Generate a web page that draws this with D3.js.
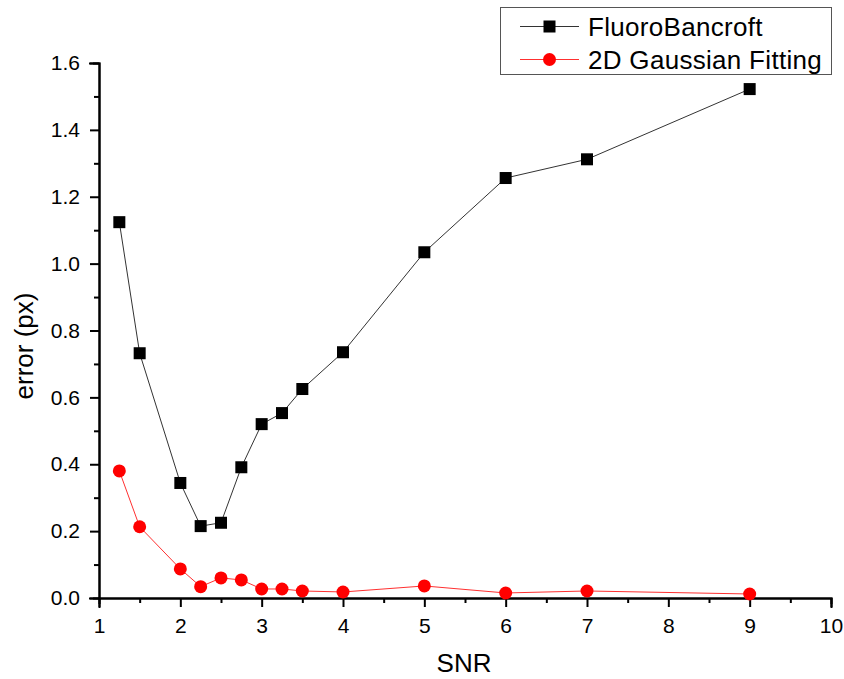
<!DOCTYPE html>
<html>
<head>
<meta charset="utf-8">
<script src="https://cdn.jsdelivr.net/npm/d3@7"></script>
<style>
  body { margin: 0; background: #fff; }
  text { font-family: "Liberation Sans", Arial, sans-serif; fill: #000; }
</style>
</head>
<body>
<script>
var snr = [1.25, 1.5, 2, 2.25, 2.5, 2.75, 3, 3.25, 3.5, 4, 5, 6, 7, 9];
var fluoroBancroft = [1.124, 0.732, 0.344, 0.215, 0.225, 0.391, 0.52, 0.553, 0.625, 0.735, 1.034, 1.256, 1.312, 1.522];
var gaussFit = [0.38, 0.213, 0.087, 0.034, 0.06, 0.054, 0.027, 0.027, 0.021, 0.018, 0.036, 0.015, 0.021, 0.012];
var xTicks = [1, 2, 3, 4, 5, 6, 7, 8, 9, 10];
var yTicks = [0, 0.2, 0.4, 0.6, 0.8, 1.0, 1.2, 1.4, 1.6];

var totalWidth = 844, totalHeight = 679;
var margin = {top: 63, left: 99, bottom: 81, right: 13};
var tickFont = 21, titleFont = 26;

var svg = d3.select("body").append("svg")
    .attr("width", totalWidth)
    .attr("height", totalHeight);

var xScale = d3.scaleLinear().domain([1, 10]).range([margin.left, totalWidth - margin.right]);
var yScale = d3.scaleLinear().domain([0, 1.6]).range([totalHeight - margin.bottom, margin.top]);

// axes with major + minor ticks, pointing outward
var xAxisG = svg.append("g").attr("transform", "translate(0," + yScale(0) + ")");
xAxisG.call(d3.axisBottom(xScale).tickValues(d3.range(1.5, 10, 1)).tickSize(5).tickFormat(""));
xAxisG.append("g").call(d3.axisBottom(xScale).tickValues(xTicks).tickSize(9).tickPadding(11).tickFormat(d3.format("d")));
xAxisG.selectAll("path, line").attr("stroke", "#000").attr("stroke-width", 2);
xAxisG.selectAll("text").attr("font-size", tickFont).attr("font-family", "Liberation Sans, Arial, sans-serif");

var yAxisG = svg.append("g").attr("transform", "translate(" + xScale(1) + ",0)");
yAxisG.call(d3.axisLeft(yScale).tickValues(d3.range(0.1, 1.6, 0.2)).tickSize(5).tickFormat(""));
yAxisG.append("g").call(d3.axisLeft(yScale).tickValues(yTicks).tickSize(9).tickPadding(10).tickFormat(d3.format(".1f")));
yAxisG.selectAll("path, line").attr("stroke", "#000").attr("stroke-width", 2);
yAxisG.selectAll("text").attr("font-size", tickFont).attr("font-family", "Liberation Sans, Arial, sans-serif");
svg.selectAll(".domain").attr("stroke-linecap", "square");

// axis titles
svg.append("text")
    .attr("x", 464)
    .attr("y", 672)
    .attr("text-anchor", "middle")
    .attr("font-size", titleFont)
    .text("SNR");

svg.append("text")
    .attr("transform", "translate(33,346) rotate(-90)")
    .attr("text-anchor", "middle")
    .attr("font-size", titleFont)
    .text("error (px)");

var line = d3.line()
    .x(function(d) { return xScale(d[0]); })
    .y(function(d) { return yScale(d[1]); });

var blackPts = snr.map(function(s, i) { return [s, fluoroBancroft[i]]; });
var redPts = snr.map(function(s, i) { return [s, gaussFit[i]]; });

svg.append("path").datum(redPts)
    .attr("d", line).attr("fill", "none").attr("stroke", "#ff3030").attr("stroke-width", 1);
svg.append("path").datum(blackPts)
    .attr("d", line).attr("fill", "none").attr("stroke", "#333").attr("stroke-width", 1);

var sq = 12;
svg.selectAll(".sq").data(blackPts).enter().append("rect")
    .attr("x", function(d) { return xScale(d[0]) - sq / 2; })
    .attr("y", function(d) { return yScale(d[1]) - sq / 2; })
    .attr("width", sq).attr("height", sq)
    .attr("fill", "#000");

svg.selectAll(".dot").data(redPts).enter().append("circle")
    .attr("cx", function(d) { return xScale(d[0]); })
    .attr("cy", function(d) { return yScale(d[1]); })
    .attr("r", 6.5)
    .attr("fill", "#ff0000");

// legend
var legend = svg.append("g");
legend.append("rect")
    .attr("x", 500.5).attr("y", 7.5).attr("width", 331).attr("height", 67)
    .attr("fill", "#fff").attr("stroke", "#555").attr("stroke-width", 1);

var series = [
  {name: "FluoroBancroft", color: "#333", fill: "#000", shape: "square"},
  {name: "2D Gaussian Fitting", color: "#ff3030", fill: "#ff0000", shape: "circle"}
];
series.forEach(function(s, i) {
  var y = 26.5 + i * 33;
  legend.append("line")
      .attr("x1", 520).attr("x2", 579).attr("y1", y).attr("y2", y)
      .attr("stroke", s.color).attr("stroke-width", 1);
  if (s.shape === "square") {
    legend.append("rect").attr("x", 549.5 - 6).attr("y", y - 6).attr("width", 12).attr("height", 12).attr("fill", s.fill);
  } else {
    legend.append("circle").attr("cx", 549.5).attr("cy", y).attr("r", 6.5).attr("fill", s.fill);
  }
  legend.append("text")
      .attr("x", 588).attr("y", y + 9.5)
      .attr("font-size", titleFont)
      .attr("letter-spacing", 0.3)
      .text(s.name);
});
</script>
</body>
</html>
